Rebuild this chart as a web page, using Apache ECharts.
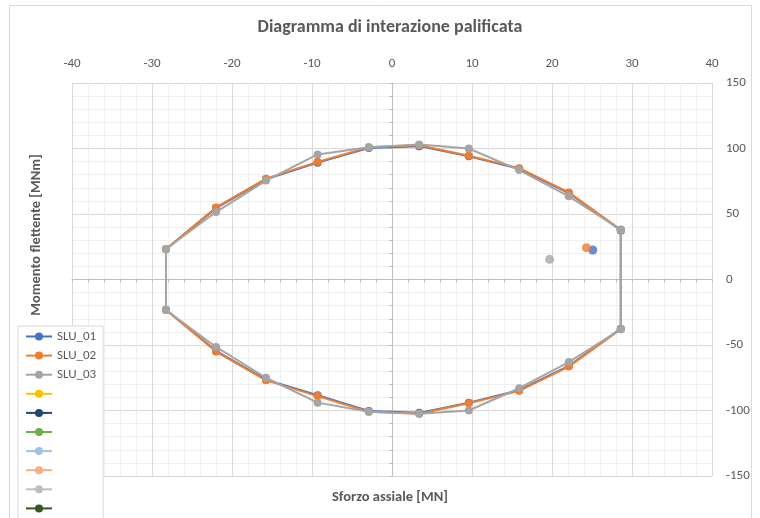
<!DOCTYPE html>
<html>
<head>
<meta charset="utf-8">
<script src="https://cdn.jsdelivr.net/npm/echarts@6/dist/echarts.min.js"></script>
<style>
  html, body { margin: 0; padding: 0; background: #fff; }
  #chart { width: 760px; height: 518px; }
</style>
</head>
<body>
<div id="chart"></div>
<script>
// Interaction domain vertices (axial force N [MN], bending moment M [MNm])
const domainN = [28.6, 22.1, 15.9, 9.6, 3.4, -2.9, -9.3, -15.75, -22, -28.25,
                 -28.25, -22, -15.75, -9.3, -2.9, 3.4, 9.6, 15.9, 22.1, 28.6, 28.6];
const slu01M = [37.5, 66, 84.5, 94, 101.8, 100.3, 89.2, 76.5, 54.5, 23,
                -23, -54.5, -76.5, -88.3, -100.3, -101.8, -94, -84.5, -66, -37.5, 37.5];
const slu02M = [38, 66.5, 85, 94.5, 102.5, 101, 89.8, 77, 55, 23.3,
                -23.3, -55, -77, -89, -101, -102.5, -94.5, -85, -66.5, -38, 38];
const slu03M = [38, 63.5, 83.5, 100, 103, 101, 95.5, 75.5, 51.5, 23.3,
                -23.3, -51.5, -75, -94, -101, -102.5, -100, -83, -63, -38, 38];

// Design actions (N, M) for each load combination
const slu01Point = [25.1, 22.5];
const slu02Point = [24.3, 24.3];
const slu03Point = [19.7, 15.4];

const seriesNames = ['SLU_01', 'SLU_02', 'SLU_03'];
const seriesColors = ['#4472C4', '#ED7D31', '#A5A5A5'];
// Further (empty) series kept in the legend
const emptyNames = ['Serie4', 'Serie5', 'Serie6', 'Serie7', 'Serie8', 'Serie9', 'Serie10'];
const emptyColors = ['#FFC000', '#264478', '#70AD47', '#9DC3E6', '#F4B183', '#BFBFBF', '#375623'];

const xTicks = { min: -40, max: 40, step: 10 };
const yTicks = { min: -150, max: 150, step: 50 };

const FONT = 'Carlito, Lato, "Liberation Sans", sans-serif';
const TXT = '#595959';

function pairs(xs, ys) { return xs.map((x, i) => [x, ys[i]]); }

const chart = echarts.init(document.getElementById('chart'), null, { renderer: 'canvas' });

const domains = [slu01M, slu02M, slu03M];
const points = [slu01Point, slu02Point, slu03Point];

const series = [];
seriesNames.forEach((name, i) => {
  series.push({
    name, type: 'line', xAxisIndex: 0, yAxisIndex: 0,
    data: pairs(domainN, domains[i]),
    symbol: 'circle', symbolSize: 8, showSymbol: true,
    color: seriesColors[i],
    lineStyle: { width: 2, color: seriesColors[i] },
    itemStyle: { color: seriesColors[i] },
    z: 3 + i, animation: false
  });
});
seriesNames.forEach((name, i) => {
  series.push({
    name, type: 'scatter', xAxisIndex: 0, yAxisIndex: 0,
    data: [points[i]],
    symbol: 'circle', symbolSize: 9,
    itemStyle: { color: seriesColors[i] },
    z: 3 + i, animation: false
  });
});
emptyNames.forEach((name, i) => {
  series.push({
    name, type: 'line', data: [],
    symbol: 'circle', symbolSize: 8,
    color: emptyColors[i],
    lineStyle: { width: 2, color: emptyColors[i] },
    itemStyle: { color: emptyColors[i] },
    animation: false
  });
});

const option = {
  animation: false,
  textStyle: { fontFamily: FONT },
  grid: { left: 72, right: 48, top: 83, bottom: 42, containLabel: false },
  xAxis: [
    {
      type: 'value', position: 'top', min: xTicks.min, max: xTicks.max, interval: xTicks.step,
      axisLine: { show: false, onZero: false }, axisTick: { show: false },
      axisLabel: { color: TXT, fontSize: 13, fontFamily: FONT, margin: 13 },
      splitLine: { show: true, lineStyle: { color: '#D9D9D9', width: 1 } },
      minorTick: { show: false, splitNumber: 5 },
      minorSplitLine: { show: true, lineStyle: { color: '#F0F0F0', width: 1 } }
    },
    {
      type: 'value', position: 'bottom', min: xTicks.min, max: xTicks.max, interval: xTicks.step,
      axisLine: { show: true, onZero: true, lineStyle: { color: '#BFBFBF', width: 1 } },
      axisTick: { show: true, length: 3, lineStyle: { color: '#BFBFBF' } },
      minorTick: { show: true, splitNumber: 5, length: 3, lineStyle: { color: '#BFBFBF' } },
      axisLabel: { show: false }, splitLine: { show: false }
    }
  ],
  yAxis: [
    {
      type: 'value', position: 'right', min: yTicks.min, max: yTicks.max, interval: yTicks.step,
      axisLine: { show: false, onZero: false }, axisTick: { show: false },
      axisLabel: { color: TXT, fontSize: 13, fontFamily: FONT, margin: 14, align: 'left' },
      splitLine: { show: true, lineStyle: { color: '#D9D9D9', width: 1 } },
      minorTick: { show: false, splitNumber: 5 },
      minorSplitLine: { show: true, lineStyle: { color: '#F0F0F0', width: 1 } }
    },
    {
      type: 'value', position: 'left', min: yTicks.min, max: yTicks.max, interval: yTicks.step,
      axisLine: { show: true, onZero: true, lineStyle: { color: '#BFBFBF', width: 1 } },
      axisTick: { show: true, length: 3, lineStyle: { color: '#BFBFBF' } },
      minorTick: { show: true, splitNumber: 5, length: 3, lineStyle: { color: '#BFBFBF' } },
      axisLabel: { show: false }, splitLine: { show: false }
    }
  ],
  legend: {
    orient: 'vertical', left: 18, top: 326, height: 260,
    data: seriesNames.concat(emptyNames),
    backgroundColor: '#FFFFFF', borderColor: '#D9D9D9', borderWidth: 1, borderRadius: 0,
    padding: [4, 7, 4, 7],
    itemWidth: 26, itemHeight: 10, itemGap: 6.1,
    textStyle: { color: TXT, fontSize: 13, lineHeight: 10, fontFamily: FONT },
    formatter: name => (seriesNames.includes(name) ? name : ' '),
    z: 10
  },
  graphic: [
    {
      type: 'rect', silent: true, z: -10,
      shape: { x: 9.5, y: 5.5, width: 742, height: 530 },
      style: { fill: 'none', stroke: '#D9D9D9', lineWidth: 1 }
    },
    {
      type: 'text', x: 390, y: 27,
      style: { text: 'Diagramma di interazione palificata', fill: TXT,
               font: 'bold 18px ' + FONT, textAlign: 'center', textVerticalAlign: 'middle' }
    },
    {
      type: 'text', x: 390, y: 497,
      style: { text: 'Sforzo assiale [MN]', fill: TXT,
               font: 'bold 14.5px ' + FONT, textAlign: 'center', textVerticalAlign: 'middle' }
    },
    {
      type: 'text', x: 36, y: 235, rotation: Math.PI / 2,
      style: { text: 'Momento flettente [MNm]', fill: TXT,
               font: 'bold 14.5px ' + FONT, textAlign: 'center', textVerticalAlign: 'middle' }
    }
  ],
  series
};

chart.setOption(option);
</script>
</body>
</html>
